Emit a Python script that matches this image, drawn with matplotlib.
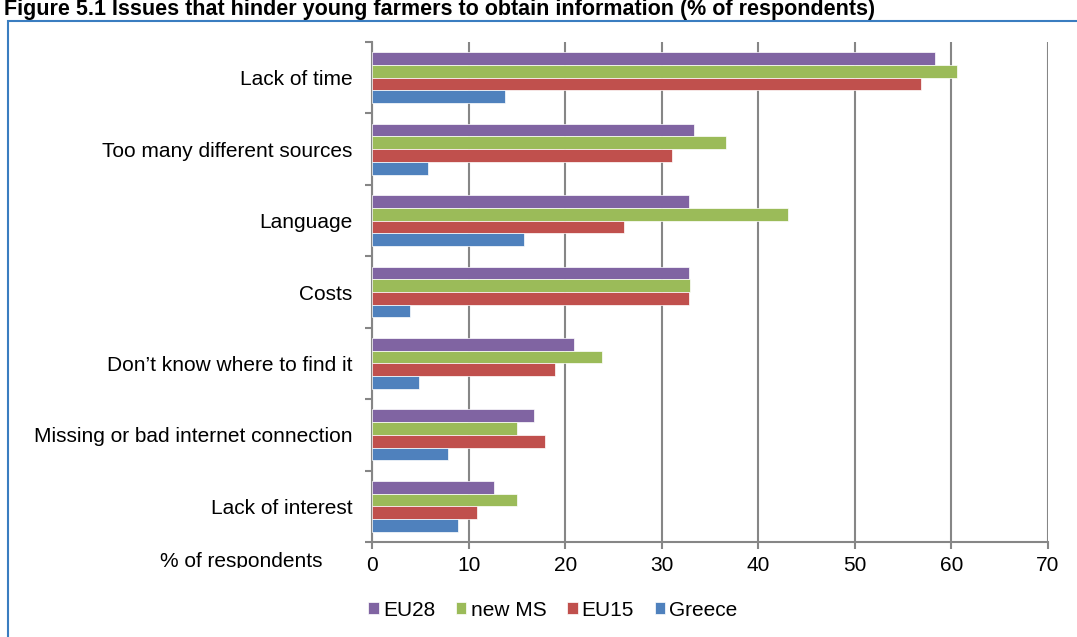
import numpy as np
import matplotlib.pyplot as plt
from matplotlib.patches import Rectangle
from matplotlib.transforms import Bbox

plt.rcParams['font.family'] = ['Liberation Sans', 'DejaVu Sans']

issues = [
    "Lack of time",
    "Too many different sources",
    "Language",
    "Costs",
    "Don\u2019t know where to find it",
    "Missing or bad internet connection",
    "Lack of interest",
]
series_names = ["EU28", "new MS", "EU15", "Greece"]
eu28 = [58.3, 33.3, 32.8, 32.8, 20.9, 16.8, 12.6]
new_ms = [60.6, 36.7, 43.1, 32.9, 23.8, 15.0, 15.0]
eu15 = [56.8, 31.1, 26.1, 32.8, 18.9, 17.9, 10.9]
greece = [13.8, 5.8, 15.7, 3.9, 4.9, 7.9, 8.9]
colors = ["#8064A2", "#9BBB59", "#C0504D", "#4F81BD"]

W, H = 1077, 637
fs = 15
fig = plt.figure(figsize=(W / 100, H / 100), dpi=100)
ax = fig.add_axes([372 / W, 1 - 542 / H, (1048 - 372) / W, 500 / H])

grey = "#868686"
bar_h = 0.178
y0 = np.arange(len(issues)) + 0.5
for k, (vals, name, col) in enumerate(zip([eu28, new_ms, eu15, greece],
                                           series_names, colors)):
    ax.barh(y0 + (k - 1.5) * bar_h, vals, height=bar_h, color=col,
            edgecolor="white", linewidth=0.5, label=name, zorder=3)

ax.set_xlim(0, 70)
ax.set_ylim(len(issues), 0)
ax.set_xticks(range(0, 71, 10))
ax.set_yticks(range(len(issues) + 1))
ax.set_yticklabels([])
ax.set_yticks(y0, minor=True)
ax.set_yticklabels(issues, minor=True, fontsize=fs)
ax.tick_params(axis="y", which="minor", length=0, pad=14)
ax.tick_params(axis="y", which="major", direction="out", length=5,
               width=1.5, color=grey)
ax.tick_params(axis="x", direction="out", length=5, width=1.5, color=grey,
               labelsize=fs, pad=5)
ax.grid(axis="x", color=grey, linewidth=1.5, zorder=0)
for side in ["top", "right"]:
    ax.spines[side].set_visible(False)
for side in ["left", "bottom"]:
    ax.spines[side].set_color(grey)
    ax.spines[side].set_linewidth(1.5)

# axis caption sits on the tick-label row, cut off at its baseline
cap = fig.text(322 / W, 1 - 561.5 / H, "% of respondents", ha="right",
               va="center", fontsize=fs)
cap.set_clip_box(Bbox.from_extents(0, H - 568, W, H))
cap.set_clip_on(True)

leg = ax.legend(loc="center", bbox_to_anchor=(553 / W, 1 - 610 / H),
                bbox_transform=fig.transFigure, ncol=4, frameon=False,
                fontsize=fs, handlelength=0.5, handleheight=0.5,
                handletextpad=0.2, columnspacing=1.0)

# outer frame and the report caption above it
fig.patches.append(Rectangle((8 / W, -0.05), 1.1, 1 - 21 / H + 0.05,
                             transform=fig.transFigure, fill=False,
                             edgecolor="#3A7DC0", linewidth=1.5))
fig.text(4 / W, 1 - 15 / H,
         "Figure 5.1 Issues that hinder young farmers to obtain information (% of respondents)",
         ha="left", va="baseline", fontsize=15.5, fontweight="bold")

fig.savefig("out.png", dpi=100)
